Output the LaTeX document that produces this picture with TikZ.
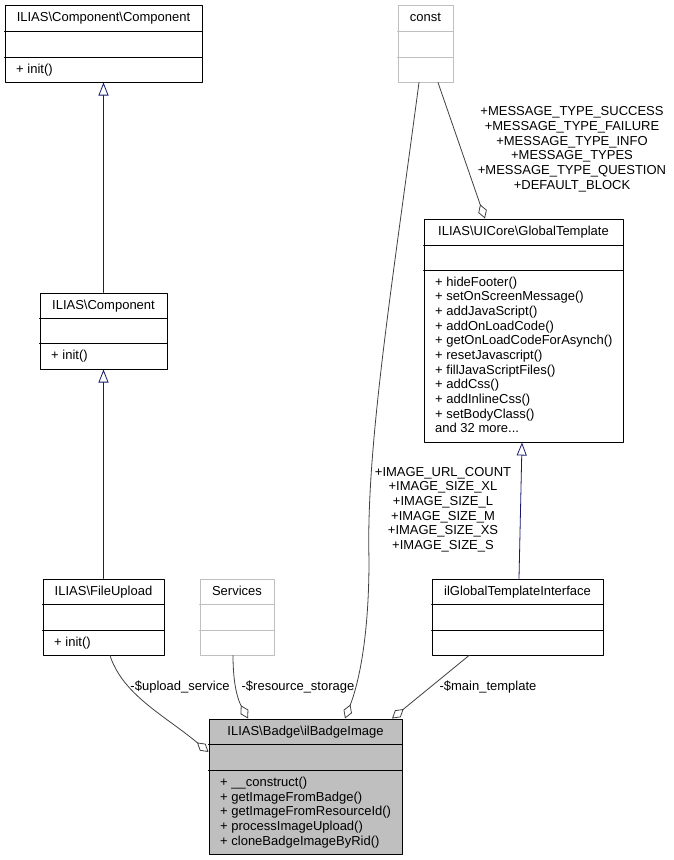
\documentclass[tikz,border=0pt]{standalone}
\usepackage{fontspec}
\setmainfont{Liberation Sans}
\usetikzlibrary{arrows.meta}
\newcommand{\bsl}{\textbackslash}
\definecolor{edgegrey}{HTML}{404040}
\definecolor{boxgrey}{HTML}{BFBFBF}
\definecolor{inhblue}{HTML}{191970}
\tikzset{
  classbox/.style={draw=black, line width=1pt, inner sep=0pt},
  greybox/.style={draw=boxgrey, line width=1pt, inner sep=0pt},
  txt/.style={inner sep=0pt, font=\fontsize{13}{14.7}\selectfont},
  title/.style={txt, anchor=base},
  member/.style={txt, anchor=base west},
  elabel/.style={txt, align=center},
  assoc/.style={draw=edgegrey, line width=0.8pt, -{Diamond[fill=white, length=15pt, width=9pt]}},
  inherit/.style={draw=inhblue, line width=0.8pt, -{Triangle[fill=white, length=13pt, width=10pt]}}
}
\begin{document}
\begin{tikzpicture}[x=1pt,y=-1pt,line cap=round,line join=round]
 \useasboundingbox (0,0) rectangle (673,860);
 % class boxes
 \node[classbox, minimum width=197pt, minimum height=77pt] (comp) at (103.5,43.5) {};
 \node[classbox, minimum width=127pt, minimum height=76pt] (ilcomp) at (103.5,331) {};
 \node[greybox, minimum width=55pt, minimum height=77pt] (const) at (425.5,43.5) {};
 \node[classbox, minimum width=199pt, minimum height=223pt] (gt) at (523.5,330.5) {};
 \node[classbox, minimum width=121pt, minimum height=76pt] (fu) at (103.5,617) {};
 \node[greybox, minimum width=74pt, minimum height=76pt] (serv) at (237,617) {};
 \node[classbox, minimum width=171pt, minimum height=76pt] (gti) at (517.5,617) {};
 \node[classbox, fill=boxgrey, minimum width=193pt, minimum height=135pt] (badge) at (305.5,786.5) {};
 % separators
 \draw[line width=1pt] (comp.west |- 0,31) -- (comp.east |- 0,31) (comp.west |- 0,57) -- (comp.east |- 0,57);
 \draw[line width=1pt] (ilcomp.west |- 0,318) -- (ilcomp.east |- 0,318) (ilcomp.west |- 0,343) -- (ilcomp.east |- 0,343);
 \draw[line width=1pt, boxgrey] (const.west |- 0,31) -- (const.east |- 0,31) (const.west |- 0,57) -- (const.east |- 0,57);
 \draw[line width=1pt] (gt.west |- 0,245) -- (gt.east |- 0,245) (gt.west |- 0,270) -- (gt.east |- 0,270);
 \draw[line width=1pt] (fu.west |- 0,604) -- (fu.east |- 0,604) (fu.west |- 0,630) -- (fu.east |- 0,630);
 \draw[line width=1pt, boxgrey] (serv.west |- 0,604) -- (serv.east |- 0,604) (serv.west |- 0,630) -- (serv.east |- 0,630);
 \draw[line width=1pt] (gti.west |- 0,604) -- (gti.east |- 0,604) (gti.west |- 0,630) -- (gti.east |- 0,630);
 \draw[line width=1pt] (badge.west |- 0,744) -- (badge.east |- 0,744) (badge.west |- 0,770) -- (badge.east |- 0,770);
 % titles
 \node[title] (comp-t) at (comp.north |- 0,21.5) {ILIAS\bsl Component\bsl Component};
 \node[title] (ilcomp-t) at (ilcomp.north |- 0,309.5) {ILIAS\bsl Component};
 \node[title] (const-t) at (const.north |- 0,21.5) {const};
 \node[title] (gt-t) at (gt.north |- 0,235.5) {ILIAS\bsl UICore\bsl GlobalTemplate};
 \node[title] (fu-t) at (fu.north |- 0,595.5) {ILIAS\bsl FileUpload};
 \node[title] (serv-t) at (serv.north |- 0,595.5) {Services};
 \node[title] (gti-t) at (gti.north |- 0,595.5) {ilGlobalTemplateInterface};
 \node[title] (badge-t) at (badge.north |- 0,735.5) {ILIAS\bsl Badge\bsl ilBadgeImage};
 % members
 \node[member] (comp-m) at (16,73.2) {+ init()};
 \node[member] (ilcomp-m) at (51,359.2) {+ init()};
 \node[member] (fu-m) at (54,646.2) {+ init()};
 \foreach \m [count=\i] in {hideFooter(), setOnScreenMessage(), addJavaScript(), addOnLoadCode(),
   getOnLoadCodeForAsynch(), resetJavascript(), fillJavaScriptFiles(), addCss(), addInlineCss(), setBodyClass()}
   \node[member] (gt-m\i) at (435,{286.2+(\i-1)*14.67}) {+ \m};
 \node[member] (gt-more) at (435,432.9) {and 32 more...};
 \foreach \m [count=\i] in {\_\_construct(), getImageFromBadge(), getImageFromResourceId(),
   processImageUpload(), cloneBadgeImageByRid()}
   \node[member] (badge-m\i) at (220,{786.2+(\i-1)*14.8}) {+ \m};
 % inheritance
 \draw[inherit] (ilcomp.north) -- (comp.south);
 \draw[inherit] (fu.north) -- (ilcomp.south);
 \draw[inherit] (gti.north -| 519,0) -- (gt.south -| 522,0);
 % associations
 \draw[assoc] (const.south -| 438,0) -- (gt.north -| 485,0);
 \draw[assoc] (const.south -| 419,0) .. controls (390,300) and (366,450) .. (369,560)
   .. controls (369,640) and (358,685) .. (badge.north -| 345,0);
 \draw[assoc] (fu.south -| 110,0) .. controls (123,695) and (164,715) .. (badge.west |- 0,752);
 \draw[assoc] (serv.south -| 233,0) .. controls (233,685) and (238,700) .. (badge.north -| 248,0);
 \draw[assoc] (gti.south -| 469,0) -- (badge.north -| 392,0);
 % edge labels
 \node[elabel] (l-msg) at (572,149.3) {+MESSAGE\_TYPE\_SUCCESS\\+MESSAGE\_TYPE\_FAILURE\\+MESSAGE\_TYPE\_INFO\\+MESSAGE\_TYPES\\+MESSAGE\_TYPE\_QUESTION\\+DEFAULT\_BLOCK};
 \node[elabel] (l-img) at (443,509.5) {+IMAGE\_URL\_COUNT\\+IMAGE\_SIZE\_XL\\+IMAGE\_SIZE\_L\\+IMAGE\_SIZE\_M\\+IMAGE\_SIZE\_XS\\+IMAGE\_SIZE\_S};
 \node[elabel] (l-up) at (180,686.7) {-\$upload\_service};
 \node[elabel] (l-rs) at (298,686.7) {-\$resource\_storage};
 \node[elabel] (l-mt) at (488,686.7) {-\$main\_template};
\end{tikzpicture}
\end{document}
